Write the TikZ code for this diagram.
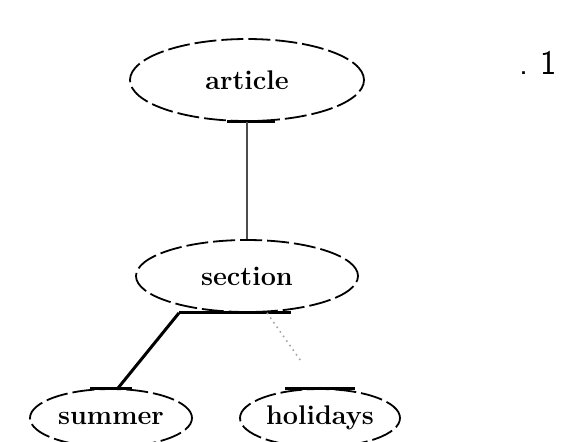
\documentclass[tikz,border=0pt]{standalone}
\usepackage{tikz}
\usetikzlibrary{shapes}

\begin{document}
\begin{tikzpicture}
  [x=0.5pt,y=-0.5pt,every node/.style={ellipse,draw,dash pattern=on 11pt off 2.5pt,line width=0.9pt,font=\fontsize{13.5}{16}\selectfont\bfseries,inner sep=0pt}]
  \useasboundingbox (0,0) rectangle (578,441);
  \node[minimum width=117pt,minimum height=41pt] (n1) at (247,80) {article};
  \node[minimum width=111pt,minimum height=36pt] (n2) at (247,276) {section};
  \node[minimum width=81pt,minimum height=29pt] (n3) at (111,418) {summer};
  \node[minimum width=80pt,minimum height=29pt] (n4) at (320,418) {holidays};
  \node[draw=none,font=\LARGE\sffamily] (num) at (538,63) {.\hspace{6pt}1};

  % solid bars where the links meet the ellipses
  \draw[line width=1.5pt] ([xshift=-10pt]n1.south) -- ([xshift=14pt]n1.south);
  \draw[line width=1.5pt] ([xshift=-34pt]n2.south) -- ([xshift=22pt]n2.south);
  \draw[line width=1.5pt] ([xshift=-10.5pt]n3.north) -- ([xshift=10.5pt]n3.north);
  \draw[line width=1.5pt] ([xshift=-17.5pt]n4.north) -- ([xshift=17.5pt]n4.north);

  \draw[line width=0.6pt,gray!60!black] (n1.south) -- (n2.north);
  \draw[line width=1.5pt] ([xshift=-34pt]n2.south) -- ([xshift=3.5pt]n3.north);
  \draw[dotted,line width=0.8pt,gray!70,shorten >=17pt] ([xshift=10pt]n2.south) -- (n4.north);
\end{tikzpicture}
\end{document}
